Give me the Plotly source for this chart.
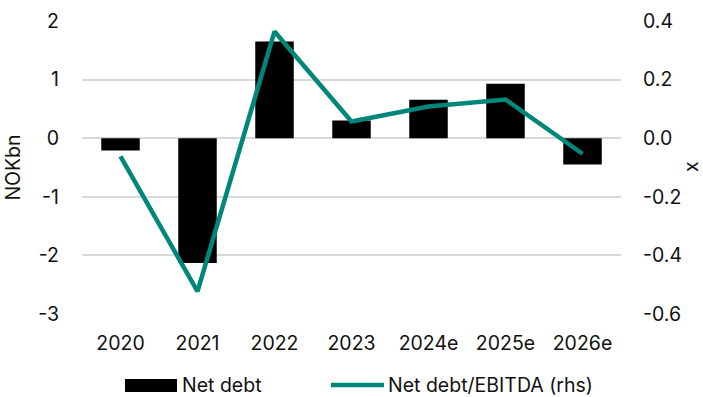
import plotly.graph_objects as go

years = ["2020", "2021", "2022", "2023", "2024e", "2025e", "2026e"]
net_debt = [-0.21, -2.13, 1.65, 0.30, 0.655, 0.93, -0.45]
net_debt_ebitda = [-0.062, -0.523, 0.364, 0.057, 0.108, 0.132, -0.053]

left_ticks = [-3, -2, -1, 0, 1, 2]
left_labels = ["-3", "-2", "-1", "0", "1", "2"]
right_ticks = [-0.6, -0.4, -0.2, 0.0, 0.2, 0.4]
right_labels = ["-0.6", "-0.4", "-0.2", "0.0", "0.2", "0.4"]

TEAL = "#00877A"
FONT = "Inter"
FS = 19.5

fig = go.Figure()
fig.add_trace(go.Bar(x=years, y=net_debt, name="Net debt",
                     marker=dict(color="#000000", line=dict(width=0)),
                     showlegend=False))
fig.add_trace(go.Scatter(x=years, y=net_debt_ebitda, name="Net debt/EBITDA (rhs)",
                         yaxis="y2", mode="lines",
                         line=dict(color=TEAL, width=4.5),
                         showlegend=False))

fig.update_layout(
    width=703, height=397,
    margin=dict(l=82, r=82, t=21, b=83),
    paper_bgcolor="white", plot_bgcolor="white",
    font=dict(family=FONT, size=FS, color="#111111"),
    bargap=0.5,
    xaxis=dict(showgrid=False, showline=False, ticks="", tickfont=dict(size=FS),
               ticklabelstandoff=15, automargin=False),
    yaxis=dict(range=[-3, 2], tickvals=left_ticks, ticktext=left_labels,
               showgrid=True, gridcolor="#d9d9d9",
               gridwidth=1.5, zeroline=False, showline=False, ticks="",
               tickfont=dict(size=FS), ticklabelstandoff=22, automargin=False,
               title=dict(text="NOKbn", font=dict(size=FS), standoff=12)),
    yaxis2=dict(range=[-0.6, 0.4], tickvals=right_ticks, ticktext=right_labels,
                overlaying="y", side="right", showgrid=False, zeroline=False,
                showline=False, ticks="", tickfont=dict(size=FS),
                ticklabelstandoff=21, automargin=False),
)

# right-hand axis title
fig.add_annotation(text="x", xref="paper", yref="paper",
                   x=(691 - 82) / 539, y=(314 - 167) / 293,
                   xanchor="center", yanchor="middle", textangle=-90,
                   borderpad=0, showarrow=False, font=dict(size=FS))

# legend drawn below the plot area
fig.add_shape(type="rect", xref="paper", yref="paper",
              x0=(125 - 82) / 539, x1=(177 - 82) / 539,
              y0=-(379 - 314) / 293, y1=-(392 - 314) / 293,
              fillcolor="#000000", line=dict(width=0))
fig.add_annotation(text="Net debt", xref="paper", yref="paper",
                   x=(180 - 82) / 539, y=-(385 - 314) / 293,
                   xanchor="left", yanchor="middle", showarrow=False,
                   font=dict(size=FS))
fig.add_shape(type="line", xref="paper", yref="paper",
              x0=(331 - 82) / 539, x1=(384 - 82) / 539,
              y0=-(385 - 314) / 293, y1=-(385 - 314) / 293,
              line=dict(color=TEAL, width=4.5))
fig.add_annotation(text="Net debt/EBITDA (rhs)", xref="paper", yref="paper",
                   x=(386 - 82) / 539, y=-(385 - 314) / 293,
                   xanchor="left", yanchor="middle", showarrow=False,
                   font=dict(size=FS))

fig.write_html("out.html")
